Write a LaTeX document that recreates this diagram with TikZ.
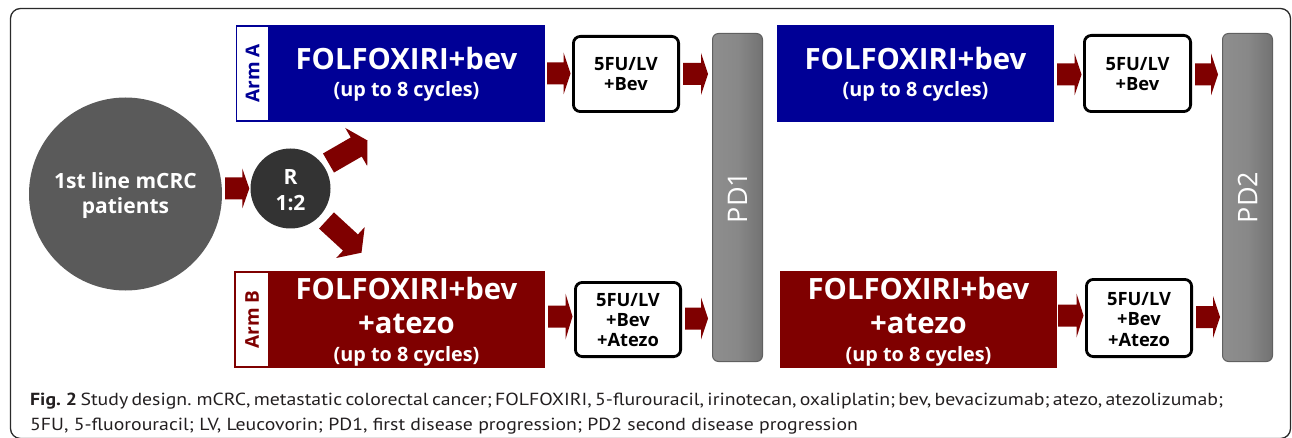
\documentclass[tikz,border=0pt]{standalone}
\usepackage{fontspec}
\setmainfont{Open Sans}
\newfontfamily\capfont[FakeStretch=1.13]{PT Sans}
\usetikzlibrary{calc}
\definecolor{ablue}{HTML}{000096}
\definecolor{ared}{HTML}{7F0000}
\definecolor{bigc}{HTML}{5A5A5A}
\definecolor{rc}{HTML}{333333}
\definecolor{barfill}{HTML}{888888}
\definecolor{barline}{HTML}{606060}
\definecolor{framec}{HTML}{2A2A2A}
\definecolor{captxt}{HTML}{231F20}
\definecolor{HTML8e}{HTML}{8E8E8E}
\definecolor{HTML70}{HTML}{727272}
\newcommand\fs[1]{\fontsize{#1}{#1}\selectfont}
% #1 start, #2 tip, #3 shaft half width, #4 head half width, #5 head length
\newcommand\blockarrow[5]{%
  \fill[ared] let \p1=#1, \p2=#2, \n1={atan2(\y2-\y1,\x2-\x1)}, \n2={veclen(\x2-\x1,\y2-\y1)} in
  [shift={(\p1)}, rotate=\n1]
  (0pt,{-#3*1pt}) -- ({(\n2-#5)*1pt},{-#3*1pt}) -- ({(\n2-#5)*1pt},{-#4*1pt}) -- ({\n2*1pt},0pt)
  -- ({(\n2-#5)*1pt},{#4*1pt}) -- ({(\n2-#5)*1pt},{#3*1pt}) -- (0pt,{#3*1pt}) -- cycle;}
\begin{document}
\begin{tikzpicture}[x=1pt,y=-1pt,
  armbox/.style={rectangle, inner sep=0pt, minimum height=97pt},
  armlabel/.style={rectangle, fill=white, inner sep=0pt, minimum width=31pt, minimum height=93pt},
  regimen/.style={rectangle, draw=black, line width=2.8pt, fill=white, rounded corners=7pt, inner sep=0pt},
  pdbar/.style={rectangle, left color=HTML8e, right color=HTML70, middle color=barfill, draw=barline, line width=1pt, rounded corners=6pt, minimum width=50pt, minimum height=328pt, inner sep=0pt},
  bigtxt/.style={text=white, font=\bfseries\fs{29.3}, inner sep=0pt, anchor=base},
  subtxt/.style={text=white, font=\bfseries\fs{19.8}, inner sep=0pt, anchor=base},
  regtxt/.style={text=black, font=\bfseries\fs{18.3}, inner sep=0pt, anchor=base},
  circtxt/.style={text=white, font=\bfseries\fs{21}, inner sep=0pt, anchor=base},
  armtxt/.style={rotate=90, font=\bfseries\fs{19}, inner sep=0pt},
  pdtxt/.style={rotate=90, text=white, font=\fs{27}, inner sep=0pt},
  captxtstyle/.style={anchor=base west, inner sep=0pt, text=captxt, font=\capfont\fs{17.5}}
]
\useasboundingbox (0,0) rectangle (1292,438);
\draw[framec, line width=1.3pt, rounded corners=10pt] (10.5,8.5) rectangle (1290.5,438.5);

% start circles
\node[circle, fill=bigc, minimum size=193pt, inner sep=0pt] (C) at (125.5,194) {};
\node[circtxt] (c1) at (125.5,188.5) {1st line mCRC};
\node[circtxt] (c2) at (125.5,213.5) {patients};
\node[circle, fill=rc, minimum size=80pt, inner sep=0pt] (R) at (290.5,188.5) {};
\node[circtxt] (r1) at (290.5,185) {R};
\node[circtxt] (r2) at (290.5,211) {1:2};

% Arm A
\node[armbox, fill=ablue, minimum width=309pt] (A1) at (390.5,73.5) {};
\node[armlabel] (LA) at (252.5,73.5) {};
\node[armtxt, text=ablue] (LAt) at (LA) {Arm A};
\node[bigtxt] (A1a) at (406.5,70) {FOLFOXIRI+bev};
\node[subtxt] (A1b) at (406.5,97) {(up to 8 cycles)};
\node[regimen, minimum width=105.2pt, minimum height=75.2pt] (F1) at (626,74) {};
\node[regtxt] (F1a) at (626,71) {5FU/LV};
\node[regtxt] (F1b) at (626,91) {+Bev};

\node[armbox, fill=ablue, minimum width=277pt] (A2) at (915.5,73.5) {};
\node[bigtxt] (A2a) at (915.5,70) {FOLFOXIRI+bev};
\node[subtxt] (A2b) at (915.5,97) {(up to 8 cycles)};
\node[regimen, minimum width=106.2pt, minimum height=76.2pt] (F2) at (1137.5,73.5) {};
\node[regtxt] (F2a) at (1137.5,71) {5FU/LV};
\node[regtxt] (F2b) at (1137.5,91) {+Bev};

% Arm B
\node[armbox, fill=ared, minimum width=311pt] (B1) at (389.5,319.5) {};
\node[armlabel, minimum width=32pt] (LB) at (252,319.5) {};
\node[armtxt, text=ared] (LBt) at (LB) {Arm B};
\node[bigtxt] (B1a) at (406.5,299) {FOLFOXIRI+bev};
\node[bigtxt] (B1b) at (406.5,333) {+atezo};
\node[subtxt] (B1c) at (406.5,361) {(up to 8 cycles)};
\node[regimen, minimum width=105.2pt, minimum height=74.2pt] (F3) at (628,319.5) {};
\node[regtxt] (F3a) at (628,306) {5FU/LV};
\node[regtxt] (F3b) at (628,326) {+Bev};
\node[regtxt] (F3c) at (628,346) {+Atezo};

\node[armbox, fill=ared, minimum width=277pt] (B2) at (918.5,319.5) {};
\node[bigtxt] (B2a) at (918.5,299) {FOLFOXIRI+bev};
\node[bigtxt] (B2b) at (918.5,333) {+atezo};
\node[subtxt] (B2c) at (918.5,361) {(up to 8 cycles)};
\node[regimen, minimum width=105.2pt, minimum height=77.2pt] (F4) at (1139,318) {};
\node[regtxt] (F4a) at (1139,305) {5FU/LV};
\node[regtxt] (F4b) at (1139,325) {+Bev};
\node[regtxt] (F4c) at (1139,346) {+Atezo};

% progression bars
\node[pdbar] (PD1) at (737.5,197.5) {};
\node[pdtxt] (PD1t) at (PD1) {PD1};
\node[pdbar] (PD2) at (1247.5,197.5) {};
\node[pdtxt] (PD2t) at (PD2) {PD2};

% arrows
\blockarrow{($(C.east|-R.west)+(3,0)$)}{($(R.west)+(-1,0)$)}{11}{20}{7}
\coordinate (u0) at (328.5,163);
\coordinate (u1) at (367.5,140.5);
\blockarrow{(u0)}{(u1)}{11}{22}{13}
\coordinate (d0) at (326.5,220.5);
\coordinate (d1) at (361.5,252.7);
\blockarrow{(d0)}{(d1)}{11}{21}{15}

\blockarrow{($(A1.east)+(2,0)$)}{($(A1.east-|F1.west)+(-1.5,0)$)}{11}{21}{7}
\blockarrow{($(F1.east)+(3,0)$)}{($(F1.east-|PD1.west)+(-4,0)$)}{11}{21}{7}
\blockarrow{($(B1.east)+(3,-3)$)}{($(B1.east-|F3.west)+(-1.5,-3)$)}{11}{23}{7}
\blockarrow{($(F3.east)+(3,-1)$)}{($(F3.east-|PD1.west)+(-4,-1)$)}{11}{21}{7}
\blockarrow{($(A2.east)+(3,1)$)}{($(A2.east-|F2.west)+(-1.5,1)$)}{11}{21}{7}
\blockarrow{($(F2.east)+(3,1)$)}{($(F2.east-|PD2.west)+(-4,1)$)}{11}{21}{7}
\blockarrow{($(B2.east)+(1,-4)$)}{($(B2.east-|F4.west)+(-1.5,-4)$)}{11}{22}{7}
\blockarrow{($(F4.east)+(3,-1)$)}{($(F4.east-|PD2.west)+(-2,-1)$)}{11}{21}{7}

% caption
\node[captxtstyle] (cap1) at (30,405) {\spaceskip=3.3pt\relax\textbf{Fig. 2} Study design. mCRC, metastatic colorectal cancer; FOLFOXIRI, 5-flurouracil, irinotecan, oxaliplatin; bev, bevacizumab; atezo, atezolizumab;};
\node[captxtstyle] (cap2) at (30,430) {5FU, 5-fluorouracil; LV, Leucovorin; PD1, first disease progression; PD2 second disease progression};
\end{tikzpicture}
\end{document}
